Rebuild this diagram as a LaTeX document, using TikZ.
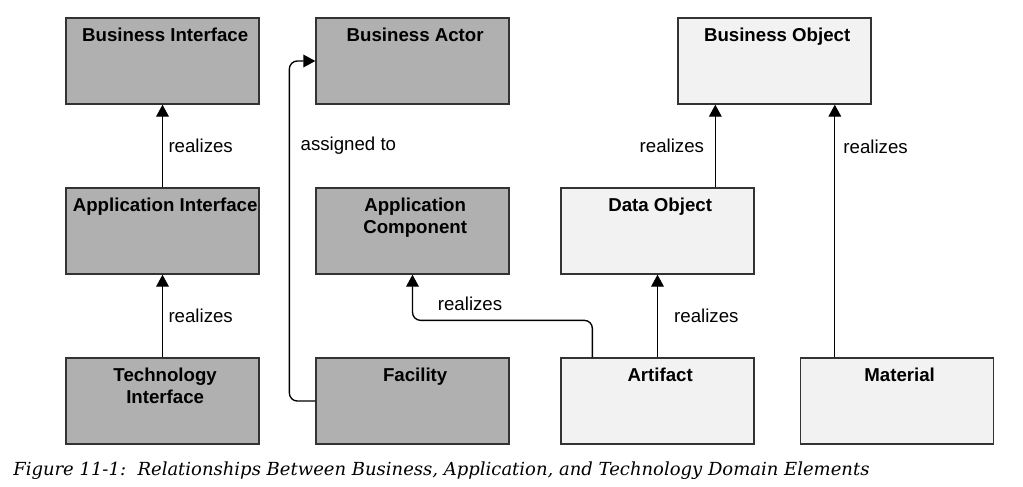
\documentclass[tikz,border=0pt]{standalone}
\usepackage{fontspec}
\setmainfont{Liberation Sans}
\newfontfamily\capfont{DejaVu Serif}
\usepackage{tikz}
\usetikzlibrary{arrows.meta,calc}

\begin{document}
\begin{tikzpicture}[
			x=0.75pt,y=-0.75pt,
			node distance=127.5pt,
			box/.style={rectangle,draw=black!80,line width=1pt,minimum width=144.75pt,minimum height=64.5pt},
			dark/.style={box,fill=black!31},
			light/.style={box,fill=black!5},
			title/.style={anchor=north,inner sep=0pt,yshift=-7.5pt,xshift=2pt,align=center,font=\bfseries\fontsize{14}{16.5}\selectfont},
			rel/.style={-{Triangle[length=9pt,width=9.5pt]},line width=1pt,rounded corners=6pt},
			lbl/.style={font=\fontsize{14}{16}\selectfont,inner sep=0pt},
			]
			\useasboundingbox (0,0) rectangle (1023,486);
			% top row
			\node [dark,label={[title]north:Business Interface}] (bi) at (162.5,61) {};
			\node [dark,right of=bi,node distance=187.5pt,label={[title]north:Business Actor}] (ba) {};
			\node [light,right of=ba,node distance=271.5pt,label={[title]north:Business Object}] (bo) {};
			% middle row
			\node [dark,below of=bi,label={[title]north:Application Interface}] (ai) {};
			\node [dark,below of=ba,label={[title]north:Application\\Component}] (ac) {};
			\node [light,below of=bo,xshift=-87.75pt,label={[title]north:Data Object}] (do) {};
			% bottom row
			\node [dark,below of=ai,label={[title]north:Technology\\Interface}] (ti) {};
			\node [dark,below of=ac,label={[title]north:Facility}] (fac) {};
			\node [light,below of=do,label={[title]north:Artifact}] (art) {};
			\node [light,right of=art,node distance=179.6pt,label={[title]north:Material}] (mat) {};

			\coordinate (artout) at ([xshift=24pt]art.north west);
			\coordinate (doout) at ([xshift=116.25pt]do.north west);
			\coordinate (matout) at ([xshift=26.25pt]mat.north west);

			\draw [rel] (ai) -- (bi) node [lbl,midway,right=4pt] {realizes};
			\draw [rel] (ti) -- (ai) node [lbl,midway,right=4pt] {realizes};
			\draw [rel] (fac.west) -- ++(-26,0) |- (ba.west) node [lbl,pos=0.375,right=8pt] {assigned to};
			\draw [rel] (artout) -- ++(0,-37) -| (ac.south) node [lbl,pos=0.34,above=7pt] {realizes};
			\draw [rel] (art) -- (do) node [lbl,midway,right=12pt] {realizes};
			\draw [rel] (doout) -- (doout |- bo.south) node [lbl,midway,left=8pt] {realizes};
			\draw [rel] (matout) -- (matout |- bo.south) node [lbl,pos=0.835,right=6pt] {realizes};

			\node [anchor=base west,inner sep=0pt,font=\capfont\itshape\fontsize{13.5}{16}\selectfont] (cap) at (13,475)
				{Figure 11-1:\ \ Relationships Between Business, Application, and Technology Domain Elements};
		\end{tikzpicture}
\end{document}
